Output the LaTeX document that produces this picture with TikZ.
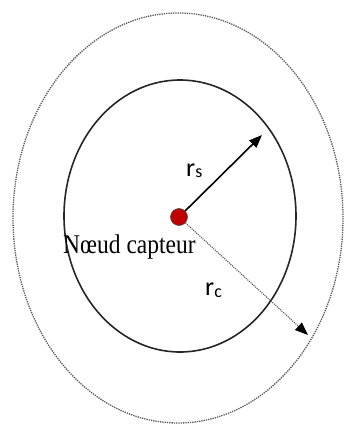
\documentclass[tikz,border=0pt]{standalone}
\usepackage{fontspec}
\setmainfont{Liberation Serif}
\newfontfamily\calfont{Carlito}
\usepackage{tikz}
\usetikzlibrary{positioning,arrows.meta}
\usepackage{xcolor}
\definecolor{nodered}{RGB}{192,0,0}
\definecolor{rangegray}{RGB}{90,90,90}

\begin{document}
\begin{tikzpicture}[
    x=1pt, y=-1pt,
    commrange/.style={draw=rangegray, densely dotted, line width=1.3pt},
    senserange/.style={draw=black!85, line width=1.6pt},
    sensor/.style={circle, draw=black!70, fill=nodered, minimum size=17pt, inner sep=0pt, line width=0.6pt},
    radius arr/.style={-{Triangle[length=13pt,width=10pt,color=black]}, line width=1.6pt},
    lbl/.style={inner sep=0pt, font=\calfont\fontsize{26}{27}\selectfont, text=black},
]
\useasboundingbox (0,0) rectangle (344,426);

% ranges
\draw[commrange] (178,218) ellipse [x radius=165, y radius=205];
\draw[senserange] (180,216) ellipse [x radius=116, y radius=136];

% sensor node
\node[sensor] (capteur) at (179,217) {};
\coordinate (rsend) at (262,135);
\coordinate (rcend) at (308,335);

\draw[radius arr, black] (capteur) -- (rsend);
\draw[radius arr, line width=1.1pt, rangegray, densely dotted] (capteur) -- (rcend);

% labels
\node[lbl, anchor=base west] (rs) at (186,176) {r\raisebox{-1pt}{\fontsize{18}{18}\selectfont s}};
\node[lbl, anchor=base west] (rc) at (205,295) {r\raisebox{-2.5pt}{\fontsize{18}{18}\selectfont c}};
\node[inner sep=0pt, anchor=base west, text=black] (nom) at (63,253)
    {\scalebox{1}[1.15]{\fontsize{23.5}{25}\selectfont Nœud capteur}};
\end{tikzpicture}
\end{document}
